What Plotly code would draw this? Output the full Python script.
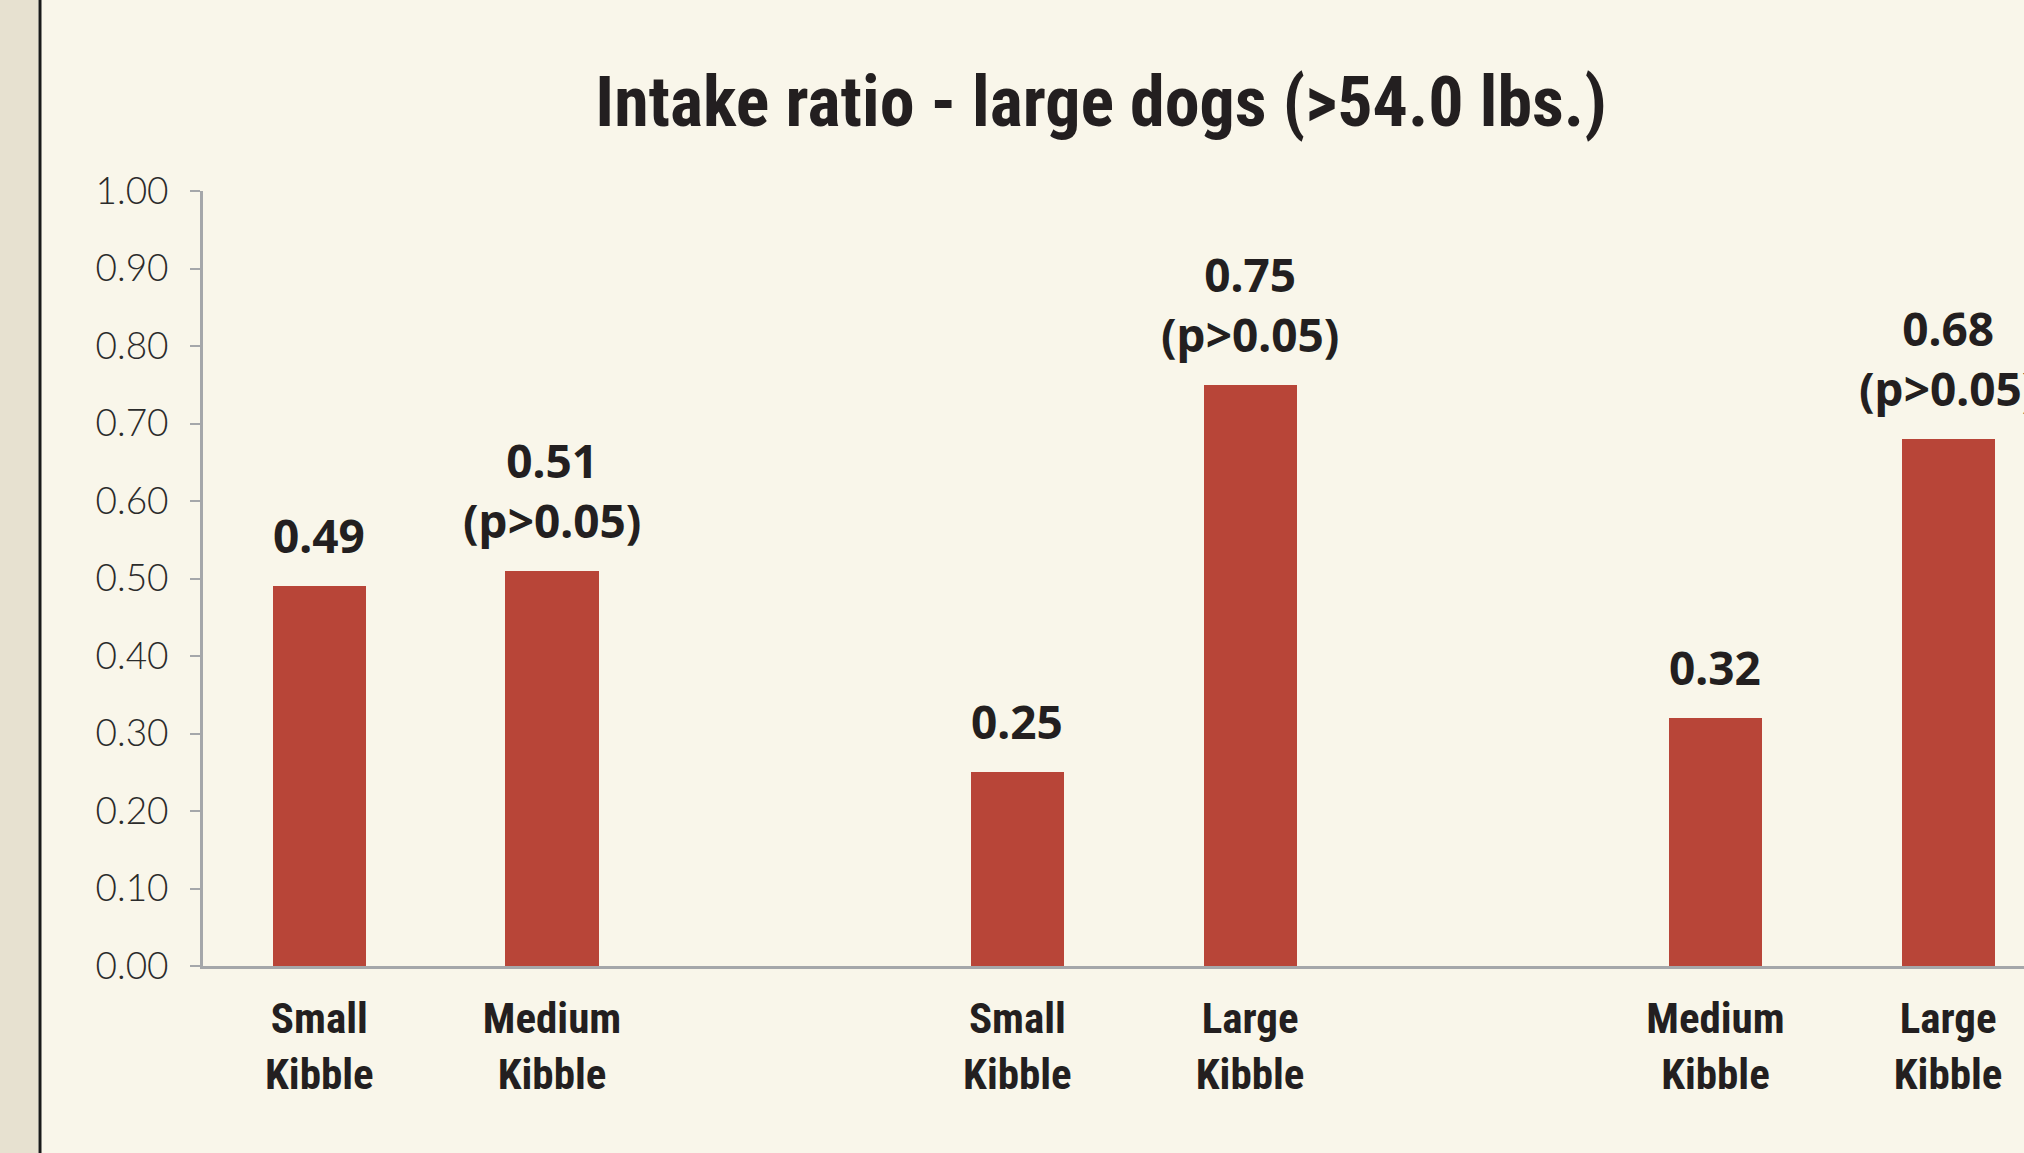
import plotly.graph_objects as go

# ---- data ----
kibble_labels = ["Small<br>Kibble", "Medium<br>Kibble",
                 "Small<br>Kibble", "Large<br>Kibble",
                 "Medium<br>Kibble", "Large<br>Kibble"]
comparison_group = [0, 0, 1, 1, 2, 2]
intake_ratio = [0.49, 0.51, 0.25, 0.75, 0.32, 0.68]
significance = ["", "(p>0.05)", "", "(p>0.05)", "", "(p>0.05)"]
y_ticks = [0.0, 0.1, 0.2, 0.3, 0.4, 0.5, 0.6, 0.7, 0.8, 0.9, 1.0]
title_text = "Intake ratio - large dogs (>54.0 lbs.)"

# ---- styles ----
BG = "#f9f6ea"
STRIP = "#e7e1d0"
BAR = "#b84538"
TXT = "#231f20"
AXIS = "#a5a7aa"
COND = "Liberation Sans Narrow, Roboto Condensed, DejaVu Sans Condensed, Noto Sans, sans-serif"
BOLD = "Noto Sans, Open Sans, sans-serif"
LIGHT = "Lato, Open Sans, sans-serif"

W, H = 2024, 1153
L, R, T, B = 203, 0, 191, 187
PW = W - L - R

# slot positions: pairs separated by an empty slot
xpos = [g * 3 + i % 2 for i, g in enumerate(comparison_group)]

fig = go.Figure()
fig.add_trace(go.Bar(
    x=xpos, y=intake_ratio, width=0.4,
    marker=dict(color=BAR, line=dict(width=0)),
    hoverinfo="skip", showlegend=False,
))

annotations = []
for x, v, s in zip(xpos, intake_ratio, significance):
    txt = f"{v:.2f}" + (f"<br>{s}" if s else "")
    annotations.append(dict(
        x=x, y=v, xref="x", yref="y", text=txt, showarrow=False,
        yanchor="bottom", xanchor="center", yshift=18,
        font=dict(family=BOLD, size=46, color=TXT, weight="bold"),
    ))

shapes = [
    dict(type="rect", xref="paper", yref="paper",
         x0=-L / PW, x1=(38 - L) / PW, y0=-B / (H - T - B), y1=1 + T / (H - T - B),
         fillcolor=STRIP, line=dict(width=0), layer="below"),
    dict(type="line", xref="paper", yref="paper",
         x0=(40 - L) / PW, x1=(40 - L) / PW, y0=-B / (H - T - B), y1=1 + T / (H - T - B),
         line=dict(color="#1a1a1a", width=3)),
]

fig.update_layout(
    width=W, height=H,
    margin=dict(l=L, r=R, t=T, b=B, pad=0),
    paper_bgcolor=BG, plot_bgcolor=BG,
    title=dict(text=title_text, xref="container", x=0.544, xanchor="center",
               yref="container", y=1 - 101 / H, yanchor="middle",
               font=dict(family=COND, size=70, color=TXT, weight="bold")),
    xaxis=dict(range=[-0.5, 7.326], tickmode="array", tickvals=xpos,
               ticktext=kibble_labels, showgrid=False, zeroline=False,
               showline=True, linecolor=AXIS, linewidth=3,
               ticks="outside", ticklen=12, tickcolor="rgba(0,0,0,0)",
               tickfont=dict(family=COND, size=43, color=TXT, weight="bold")),
    yaxis=dict(range=[0, 1], tickmode="array", tickvals=y_ticks,
               ticktext=[f"{t:.2f}" for t in y_ticks], showgrid=False,
               zeroline=False, showline=True, linecolor=AXIS, linewidth=3,
               ticks="outside", ticklen=10, tickwidth=2, tickcolor=AXIS,
               ticklabelstandoff=14,
               tickfont=dict(family=LIGHT, size=37, color="#2b2b2b", weight=300)),
    annotations=annotations, shapes=shapes,
    bargap=0,
)

fig.write_html("out.html")
